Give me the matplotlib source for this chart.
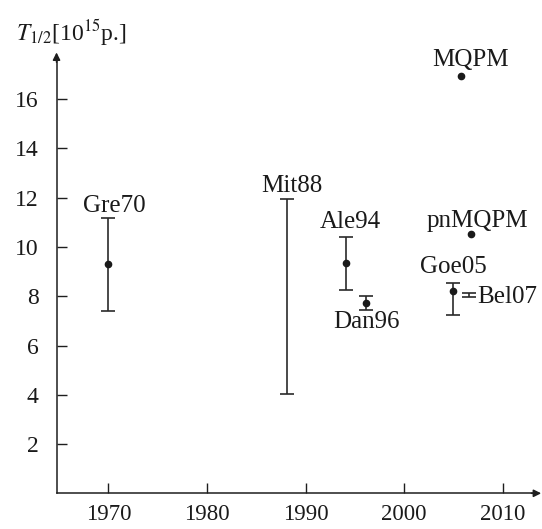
import numpy as np
import matplotlib
matplotlib.use("Agg")
import matplotlib.pyplot as plt

plt.rcParams['font.family'] = ['Liberation Serif', 'DejaVu Serif']
plt.rcParams['mathtext.fontset'] = 'stix'

# ---- data ----
labels = ["Gre70", "Mit88", "Ale94", "Dan96", "Goe05", "Bel07"]
years = [1970.0, 1988.1, 1994.1, 1996.1, 2004.95, 2006.6]
centers = [9.30, np.nan, 9.34, 7.74, 8.23, np.nan]
lower = [7.40, 4.02, 8.24, 7.46, 7.24, 7.96]
upper = [11.19, 11.95, 10.42, 8.02, 8.54, 8.12]

theory_labels = ["MQPM", "pnMQPM"]
theory_years = [2005.8, 2006.8]
theory_values = [16.94, 10.53]

xticks = [1970, 1980, 1990, 2000, 2010]
yticks = [2, 4, 6, 8, 10, 12, 14, 16]

# ---- layout (label anchor positions, in data units) ----
label_pos = {
    "Gre70": (1970.65, 11.43, 'center'),
    "Mit88": (1988.63, 12.25, 'center'),
    "Ale94": (1994.5, 10.76, 'center'),
    "Dan96": (1996.17, 6.72, 'center'),
    "Goe05": (2004.96, 8.95, 'center'),
    "Bel07": (2007.4, 7.71, 'left'),
    "MQPM": (2006.7, 17.35, 'center'),
    "pnMQPM": (2007.4, 10.83, 'center'),
}

W, H = 542, 529
fig = plt.figure(figsize=(W / 100, H / 100), dpi=100)
ax = fig.add_axes([0, 0, 1, 1])
ax.patch.set_visible(False)

# pixel mapping: 1970 at x=108.3 px, 9.86 px/yr; y=0 at 493.3 px, 24.63 px/unit
pxyr = 9.86
x0px = 108.3
ax.set_xlim(1970 - x0px / pxyr, 1970 + (W - x0px) / pxyr)
pxu = 24.63
y0px = 493.3
ax.set_ylim((y0px - H) / pxu, y0px / pxu)

col = '#1e1e1e'
xaxis_start = 1964.75
xaxis_end = 2013.9
yaxis_end = 17.9

for s in ['top', 'right']:
    ax.spines[s].set_visible(False)
ax.spines['left'].set_position(('data', xaxis_start))
ax.spines['bottom'].set_position(('data', 0))
ax.spines['left'].set_bounds(0, yaxis_end - 0.3)
ax.spines['bottom'].set_bounds(xaxis_start, xaxis_end - 0.8)
for s in ['left', 'bottom']:
    ax.spines[s].set_color(col)
    ax.spines[s].set_linewidth(1.1)

# arrowheads
ax.annotate('', xy=(xaxis_end, 0), xytext=(xaxis_end - 1.0, 0),
            arrowprops=dict(arrowstyle='-|>', color=col, lw=1.1,
                            mutation_scale=11, shrinkA=0, shrinkB=0),
            annotation_clip=False)
ax.annotate('', xy=(xaxis_start, yaxis_end), xytext=(xaxis_start, yaxis_end - 0.4),
            arrowprops=dict(arrowstyle='-|>', color=col, lw=1.1,
                            mutation_scale=11, shrinkA=0, shrinkB=0),
            annotation_clip=False)

ax.set_xticks(xticks)
ax.set_xticklabels([str(t) for t in xticks])
ax.set_yticks(yticks)
ax.set_yticklabels([str(t) for t in yticks])
ax.tick_params(axis='both', direction='in', length=7, width=1.0, color=col,
               labelsize=17, labelcolor='#1a1a1a')
ax.tick_params(axis='x', pad=8, labelsize=16.5)
ax.tick_params(axis='y', pad=13)

# error bars
for x, c, lo, hi in zip(years, centers, lower, upper):
    if np.isnan(c):
        mid = (lo + hi) / 2
        ax.errorbar([x], [mid], yerr=[[mid - lo], [hi - mid]], fmt='none',
                    ecolor='#2a2a2a', elinewidth=1.2, capsize=5, capthick=1.2)
    else:
        ax.errorbar([x], [c], yerr=[[c - lo], [hi - c]], fmt='o', ms=4.5,
                    color='#1a1a1a', ecolor='#2a2a2a', elinewidth=1.2,
                    capsize=5, capthick=1.2)

ax.plot(theory_years, theory_values, 'o', ms=4.5, color='#1a1a1a', linestyle='none')

for name in labels + theory_labels:
    lx, ly, ha = label_pos[name]
    ax.text(lx, ly, name, ha=ha, va='baseline', fontsize=18, color='#1a1a1a')

fig.text(16 / W, 1 - 40 / H, r'$T_{1/2}$[10$^{15}$p.]', ha='left', va='baseline',
         fontsize=17, color='#1a1a1a')

fig.savefig('out.png', dpi=100)
